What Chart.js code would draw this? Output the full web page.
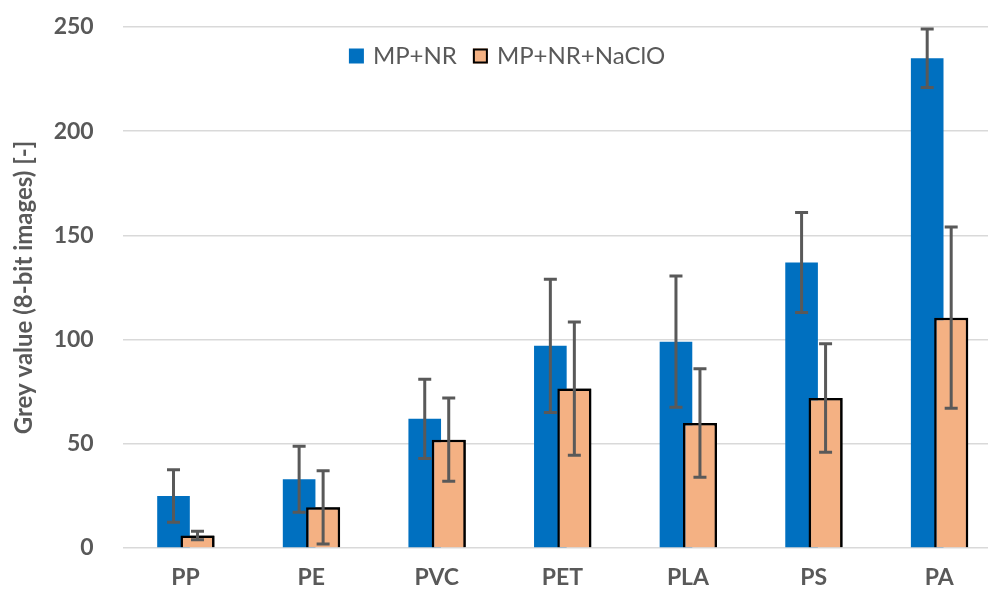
<!DOCTYPE html>
<html>
<head>
<meta charset="utf-8">
<script src="https://cdn.jsdelivr.net/npm/chart.js@4/dist/chart.umd.min.js"></script>
<style>
  html, body { margin: 0; padding: 0; background: #ffffff; overflow: hidden; }
  #wrap { position: relative; width: 1010px; height: 596px; }
</style>
</head>
<body>
<div id="wrap"><canvas id="c" width="1010" height="596"></canvas></div>
<script>
// Polymer types on the x axis
const categories = ['PP', 'PE', 'PVC', 'PET', 'PLA', 'PS', 'PA'];

// Mean grey values (8-bit) and standard deviations
const mpNr = [25, 33, 62, 97, 99, 137, 235];
const mpNrErr = [12.6, 15.8, 19, 32, 31.5, 24, 14];
const mpNrNaClO = [6, 19.5, 52, 76.5, 60, 72, 110.5];
const mpNrNaClOErr = [2, 17.6, 20, 32, 26, 26, 43.5];

// Axis ticks
const yTicks = [0, 50, 100, 150, 200, 250];

const seriesNames = ['MP+NR', 'MP+NR+NaClO'];

const TEXT = '#595959';
const FONT = 'Lato, "Open Sans", "Liberation Sans", sans-serif';

// Puts the second series in front of the first where the bars overlap,
// then draws the ± standard deviation whiskers on every bar
const errorBars = {
  id: 'errorBars',
  afterDatasetsDraw(chart) {
    const ctx = chart.ctx;
    const y = chart.scales.y;
    const front = chart.getDatasetMeta(1);
    front.data.forEach(el => el.draw(ctx));
    chart.data.datasets.forEach((ds, di) => {
      const meta = chart.getDatasetMeta(di);
      meta.data.forEach((bar, i) => {
        const v = ds.data[i], e = ds.errors[i];
        const top = y.getPixelForValue(v + e);
        const bot = y.getPixelForValue(v - e);
        const x = bar.x;
        ctx.save();
        ctx.strokeStyle = '#595959';
        ctx.lineWidth = 3;
        ctx.lineCap = 'butt';
        ctx.beginPath();
        ctx.moveTo(x, top); ctx.lineTo(x, bot);
        ctx.moveTo(x - 6.5, top); ctx.lineTo(x + 6.5, top);
        ctx.moveTo(x - 6.5, bot); ctx.lineTo(x + 6.5, bot);
        ctx.stroke();
        ctx.restore();
      });
    });
  }
};

// Legend placed inside the plot area, near the top
const innerLegend = {
  id: 'innerLegend',
  afterDraw(chart, args, opts) {
    const ctx = chart.ctx;
    ctx.save();
    ctx.font = '24px ' + FONT;
    ctx.textBaseline = 'middle';
    const box = 15, gap = 9, between = 16;
    const items = chart.data.datasets.map(ds => ({
      label: ds.label, fill: ds.backgroundColor, border: ds.borderWidth ? ds.borderColor : null,
      w: ctx.measureText(ds.label).width
    }));
    const total = items.reduce((s, it) => s + box + gap + it.w, 0) + between * (items.length - 1);
    let x = opts.centerX - total / 2;
    const cy = opts.centerY;
    items.forEach(it => {
      ctx.fillStyle = it.fill;
      ctx.fillRect(x, cy - box / 2, box, box);
      if (it.border) {
        ctx.strokeStyle = it.border;
        ctx.lineWidth = 2;
        ctx.strokeRect(x + 1, cy - box / 2 + 1, box - 2, box - 2);
      }
      x += box + gap;
      ctx.fillStyle = TEXT;
      ctx.fillText(it.label, x, cy);
      x += it.w + between;
    });
    ctx.restore();
  }
};

new Chart(document.getElementById('c'), {
  type: 'bar',
  data: {
    labels: categories,
    datasets: [
      {
        label: seriesNames[0],
        data: mpNr,
        errors: mpNrErr,
        backgroundColor: '#0070C0',
        borderWidth: 0,
        categoryPercentage: 0.382,
        barPercentage: 1.36
      },
      {
        label: seriesNames[1],
        data: mpNrNaClO,
        errors: mpNrNaClOErr,
        backgroundColor: '#F4B183',
        borderColor: '#000000',
        borderWidth: 2.5,
        categoryPercentage: 0.382,
        barPercentage: 1.42
      }
    ]
  },
  options: {
    responsive: false,
    animation: false,
    layout: { padding: { top: 27, right: 8, bottom: 0, left: 0 } },
    plugins: {
      legend: { display: false },
      tooltip: { enabled: false },
      innerLegend: { centerX: 507, centerY: 56 }
    },
    scales: {
      x: {
        grid: { display: false, drawTicks: false },
        border: { display: false },
        ticks: {
          color: TEXT,
          font: { family: FONT, size: 23, weight: 'bold' },
          padding: 16,
          maxRotation: 0
        },
        afterFit(s) { s.height = 48; }
      },
      y: {
        min: 0,
        max: 250,
        afterBuildTicks(s) { s.ticks = yTicks.map(v => ({ value: v })); },
        grid: {
          color: '#D9D9D9',
          lineWidth: 1.5,
          drawTicks: true,
          tickLength: 29,
          tickColor: 'rgba(0,0,0,0)'
        },
        border: { display: false },
        ticks: {
          color: TEXT,
          font: { family: FONT, size: 23, weight: 'bold' },
          padding: 0
        },
        title: {
          display: true,
          text: 'Grey value (8-bit images) [-]',
          color: TEXT,
          font: { family: FONT, size: 24, weight: 'bold' },
          padding: { top: 10, bottom: 0 }
        },
        afterFit(s) { s.width = 122.7; }
      }
    }
  },
  plugins: [errorBars, innerLegend]
});
</script>
</body>
</html>
